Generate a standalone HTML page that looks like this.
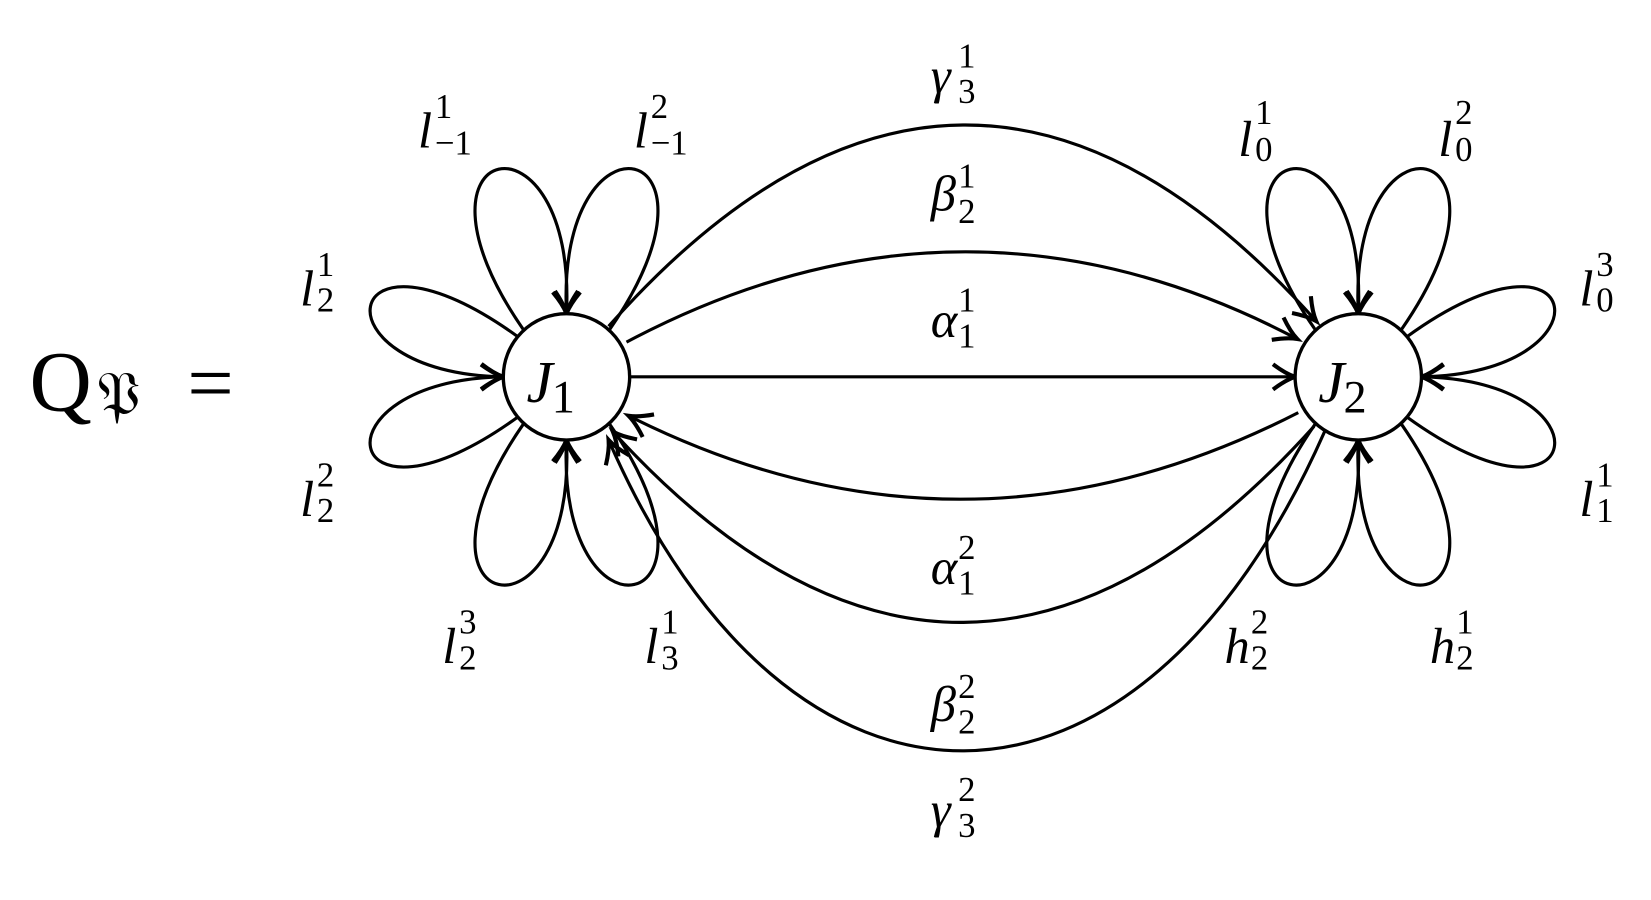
<!DOCTYPE html>
<html><head><meta charset="utf-8"><style>
html,body{margin:0;padding:0;background:#fff;}
svg{display:block;}
text{font-family:"Liberation Serif","DejaVu Serif",serif;fill:#000;}
.b{font-size:48px;font-style:italic;}
.s{font-size:33px;}
</style></head><body>
<svg width="1651" height="900" viewBox="0 0 1568 855" preserveAspectRatio="none" xmlns="http://www.w3.org/2000/svg">
<defs>
<marker id="a" markerWidth="30" markerHeight="30" refX="0" refY="0" viewBox="-16 -10 20 20" orient="auto" markerUnits="userSpaceOnUse">
<path d="M-14,-8 Q-6,-2 0,0 Q-6,2 -14,8" fill="none" stroke="#000" stroke-width="2.6"/>
</marker>
</defs>
<g fill="none" stroke="#000" stroke-width="3" marker-end="url(#a)">
<path d="M497 313 C370 130,548 95,538 298"/>
<path d="M579 313 C706 130,528 95,538 298"/>
<path d="M492 320 C320 195,295 355,478 358"/>
<path d="M492 396 C320 521,295 361,478 358"/>
<path d="M497 403 C370 586,548 621,538 418"/>
<path d="M579 403 C706 586,528 621,538 418"/>
<path d="M1249 313 C1122 130,1300 95,1290 298"/>
<path d="M1331 313 C1458 130,1280 95,1290 298"/>
<path d="M1336 320 C1508 195,1533 355,1350 358"/>
<path d="M1336 396 C1508 521,1533 361,1350 358"/>
<path d="M1249 403 C1122 586,1300 621,1290 418"/>
<path d="M1331 403 C1458 586,1280 621,1290 418"/>
<path d="M598 358 L1230 358"/>
<path d="M595 325 Q915 155 1232 322"/>
<path d="M578 310 Q915 -70 1250 305"/>
<path d="M1233 392 Q915 555 597 395"/>
<path d="M1248 405 Q915 775 582 410"/>
<path d="M1258 410 C1080 813,750 813,578 418"/>
</g>
<circle cx="538" cy="358" r="60" fill="#fff" stroke="#000" stroke-width="3.2"/>
<circle cx="1290" cy="358" r="60" fill="#fff" stroke="#000" stroke-width="3.2"/>
<text class="b" x="500" y="382" style="font-size:56px">J</text><text class="s" x="524" y="392" style="font-size:44px">1</text>
<text class="b" x="1252" y="382" style="font-size:56px">J</text><text class="s" x="1276" y="392" style="font-size:44px">2</text>
<text x="28" y="390" style="font-size:82px">Q</text><text x="92" y="394" style="font-size:58px;font-family:'DejaVu Serif',serif">𝔓</text><text x="178" y="390" style="font-size:78px">=</text>

<text class="b" x="397" y="140">l</text><text class="s" x="413" y="112">1</text><text class="s" x="413" y="147">−1</text>
<text class="b" x="602" y="140">l</text><text class="s" x="618" y="112">2</text><text class="s" x="618" y="147">−1</text>
<text class="b" x="1176" y="148">l</text><text class="s" x="1192" y="118">1</text><text class="s" x="1192" y="153">0</text>
<text class="b" x="1366" y="148">l</text><text class="s" x="1382" y="118">2</text><text class="s" x="1382" y="153">0</text>
<text class="b" x="285" y="290">l</text><text class="s" x="301" y="262">1</text><text class="s" x="301" y="296">2</text>
<text class="b" x="285" y="490">l</text><text class="s" x="301" y="462">2</text><text class="s" x="301" y="496">2</text>
<text class="b" x="1500" y="290">l</text><text class="s" x="1516" y="262">3</text><text class="s" x="1516" y="296">0</text>
<text class="b" x="1500" y="490">l</text><text class="s" x="1516" y="462">1</text><text class="s" x="1516" y="496">1</text>
<text class="b" x="420" y="630">l</text><text class="s" x="436" y="602">3</text><text class="s" x="436" y="636">2</text>
<text class="b" x="612" y="630">l</text><text class="s" x="628" y="602">1</text><text class="s" x="628" y="636">3</text>
<text class="b" x="1163" y="630">h</text><text class="s" x="1188" y="602">2</text><text class="s" x="1188" y="636">2</text>
<text class="b" x="1358" y="630">h</text><text class="s" x="1383" y="602">1</text><text class="s" x="1383" y="636">2</text>
<text class="b" x="884" y="88">γ</text><text class="s" x="910" y="64">1</text><text class="s" x="910" y="98">3</text>
<text class="b" x="884" y="200">β</text><text class="s" x="910" y="178">1</text><text class="s" x="910" y="212">2</text>
<text class="b" x="884" y="320">α</text><text class="s" x="910" y="296">1</text><text class="s" x="910" y="330">1</text>
<text class="b" x="884" y="555">α</text><text class="s" x="910" y="531">2</text><text class="s" x="910" y="565">1</text>
<text class="b" x="884" y="685">β</text><text class="s" x="910" y="663">2</text><text class="s" x="910" y="697">2</text>
<text class="b" x="884" y="785">γ</text><text class="s" x="910" y="761">2</text><text class="s" x="910" y="795">3</text>
</svg>
</body></html>
